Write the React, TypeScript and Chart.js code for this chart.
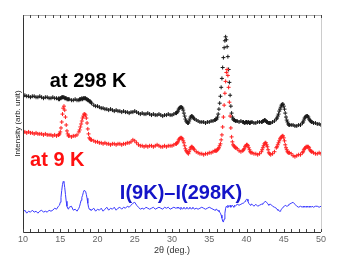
import React, { useEffect, useRef } from "react";
import { Chart, registerables } from "chart.js";

Chart.register(...registerables);

// 2θ grid (deg.) — finer sampling across the diffraction peaks
const twoTheta: number[] = [
  // A
  10, 10.25, 10.5, 10.75, 11, 11.25, 11.5, 11.75, 12, 12.25, 12.5, 12.75,
  13, 13.25, 13.5, 13.75, 14, 14.25, 14.5, 14.75,
  // B
  14.8, 14.9, 15, 15.1, 15.2, 15.3, 15.4, 15.5, 15.6, 15.7, 15.8, 15.9, 16, 16.1, 16.2,
  // C
  16.5, 16.75, 17, 17.25, 17.5,
  // D
  17.6, 17.7, 17.8, 17.9, 18, 18.1, 18.2, 18.3, 18.4, 18.5, 18.6, 18.7, 18.8, 18.9, 19, 19.1, 19.2,
  // E
  19.5, 19.75,
  20, 20.25, 20.5, 20.75, 21, 21.25, 21.5, 21.75, 22, 22.25, 22.5, 22.75,
  23, 23.25, 23.5, 23.75, 24, 24.25, 24.5, 24.75, 25, 25.25, 25.5, 25.75,
  26, 26.25, 26.5, 26.75, 27, 27.25, 27.5, 27.75, 28, 28.25, 28.5, 28.75,
  29, 29.25, 29.5, 29.75, 30, 30.25, 30.5,
  // F
  30.6, 30.7, 30.8, 30.9, 31, 31.1, 31.2, 31.3, 31.4, 31.5, 31.6, 31.7, 31.8,
  31.9, 32, 32.1, 32.2, 32.3, 32.4, 32.5, 32.6, 32.7, 32.8, 32.9, 33,
  // G
  33.25, 33.5, 33.75, 34, 34.25, 34.5, 34.75, 35, 35.25, 35.5, 35.75,
  // H
  35.8, 35.9, 36, 36.1, 36.2, 36.3, 36.4, 36.5, 36.6, 36.7, 36.8, 36.9, 37,
  37.1, 37.2, 37.3, 37.4, 37.5, 37.6, 37.7, 37.8, 37.9, 38, 38.1, 38.2, 38.3,
  38.4, 38.5, 38.6,
  // I
  38.75, 39, 39.25, 39.5,
  // J
  39.6, 39.7, 39.8, 39.9, 40, 40.1, 40.2, 40.3, 40.4, 40.5, 40.6,
  // K
  40.75, 41, 41.25, 41.5, 41.75, 42,
  // L
  42.1, 42.2, 42.3, 42.4, 42.5, 42.6, 42.7, 42.8, 42.9, 43, 43.1,
  // M
  43.25, 43.5, 43.75, 44,
  // N
  44.1, 44.2, 44.3, 44.4, 44.5, 44.6, 44.7, 44.8, 44.9, 45, 45.1, 45.2, 45.3,
  45.4, 45.5, 45.6, 45.7,
  // O
  45.75, 46, 46.25, 46.5, 46.75, 47, 47.25, 47.5,
  // P
  47.6, 47.7, 47.8, 47.9, 48, 48.1, 48.2, 48.3, 48.4, 48.5, 48.6, 48.7, 48.8,
  // Q
  49, 49.25, 49.5, 49.75, 50,
];

// I(298 K), offset trace (arb. unit)
const i298K: number[] = [
  // A
  137, 138, 137, 137, 136, 137, 137, 136, 136, 137, 136, 135,
  136, 136, 135, 135, 136, 135, 135, 134,
  // B
  135, 134, 135, 135, 136, 136, 136, 136, 135, 135, 135, 134, 134, 134, 134,
  // C
  133, 133, 134, 133, 133,
  // D
  134, 134, 134, 135, 134, 135, 135, 135, 135, 134, 134, 133, 133, 132, 132, 131, 130,
  // E
  128, 127,
  127, 126, 125, 125, 124, 124, 123, 124, 123, 122, 123, 122,
  122, 121, 122, 121, 121, 120, 121, 121, 122, 121, 120, 119,
  120, 119, 119, 120, 119, 118, 119, 118, 118, 119, 118, 117,
  118, 118, 119, 118, 118, 119, 120,
  // F
  120, 121, 122, 124, 125, 126, 126, 126, 125, 123, 120, 117, 114,
  112, 111, 110, 110, 112, 114, 116, 117, 117, 116, 115, 114,
  // G
  113, 112, 111, 111, 111, 110, 111, 111, 112, 112, 113,
  // H
  113, 114, 114, 116, 119, 124, 130, 137, 146, 155, 166, 176, 186,
  193, 197, 194, 187, 177, 164, 151, 138, 127, 120, 116, 114, 113,
  113, 112, 112,
  // I
  112, 111, 112, 111,
  // J
  111, 110, 110, 111, 111, 110, 111, 111, 110, 110, 111,
  // K
  111, 110, 110, 111, 111, 111,
  // L
  111, 112, 112, 113, 113, 112, 111, 111, 110, 110, 110,
  // M
  110, 111, 112, 114,
  // N
  115, 117, 119, 122, 124, 126, 128, 129, 129, 127, 124, 120, 116,
  113, 111, 109, 108,
  // O
  108, 108, 108, 107, 107, 108, 108, 110,
  // P
  111, 113, 115, 116, 117, 117, 117, 116, 114, 113, 112, 111, 111,
  // Q
  110, 110, 109, 109, 108,
];

// I(9 K), offset trace (arb. unit)
const i9K: number[] = [
  // A
  101, 101, 100, 101, 100, 100, 99, 100, 99, 99, 99, 98,
  99, 98, 98, 98, 97, 98, 97, 98,
  // B
  98, 99, 101, 105, 111, 119, 125, 127, 123, 116, 108, 102, 99, 97, 97,
  // C
  96, 97, 97, 98, 101,
  // D
  103, 106, 109, 112, 115, 117, 119, 119, 118, 115, 110, 104, 99, 95, 94, 93, 93,
  // E
  92, 91,
  91, 90, 90, 89, 90, 89, 89, 88, 89, 89, 88, 89,
  89, 88, 89, 89, 90, 90, 91, 93, 92, 90, 88, 87,
  87, 86, 87, 86, 87, 87, 86, 87, 88, 87, 86, 86,
  87, 86, 87, 87, 87, 88, 89,
  // F
  89, 90, 91, 93, 94, 95, 95, 95, 94, 92, 90, 87, 84,
  82, 81, 80, 79, 81, 83, 85, 86, 86, 85, 84, 83,
  // G
  81, 80, 79, 79, 78, 79, 79, 80, 80, 81, 82,
  // H
  82, 82, 82, 83, 84, 85, 87, 89, 93, 98, 106, 116, 128,
  140, 152, 161, 164, 158, 146, 131, 117, 105, 96, 91, 88, 87,
  86, 85, 85,
  // I
  84, 82, 81, 82,
  // J
  83, 84, 86, 87, 88, 88, 87, 85, 83, 81, 80,
  // K
  80, 79, 79, 78, 79, 81,
  // L
  83, 85, 87, 89, 90, 90, 88, 86, 83, 80, 79,
  // M
  78, 79, 81, 85,
  // N
  86, 88, 90, 92, 94, 95, 96, 97, 97, 95, 92, 88, 85,
  83, 81, 80, 80,
  // O
  80, 79, 77, 76, 77, 78, 78, 80,
  // P
  81, 83, 84, 85, 86, 86, 86, 86, 85, 83, 82, 81, 81,
  // Q
  80, 79, 79, 80, 79,
];

// I(9K) - I(298K), offset trace (arb. unit)
const iDiff: number[] = [
  // A
  20, 22, 19, 21, 20, 22, 20, 21, 19, 21, 22, 20,
  21, 20, 22, 21, 22, 24, 23, 26,
  // B
  26, 27, 30, 35, 42, 48, 51, 50, 45, 38, 31, 26, 24, 23, 25,
  // C
  26, 22, 23, 21, 24,
  // D
  26, 29, 32, 35, 37, 40, 42, 42, 41, 38, 34, 29, 25, 23, 23, 22, 22,
  // E
  24, 21,
  23, 22, 24, 21, 23, 25, 22, 24, 23, 25, 22, 24,
  25, 23, 25, 24, 26, 25, 27, 29, 30, 27, 25, 23,
  24, 23, 25, 24, 23, 24, 25, 23, 24, 25, 24, 23,
  25, 24, 25, 23, 24, 25, 24,
  // F
  24, 25, 24, 25, 24, 23, 25, 24, 23, 24, 25, 24, 23,
  24, 25, 24, 23, 24, 25, 24, 23, 24, 25, 24, 23,
  // G
  24, 23, 24, 25, 24, 23, 24, 25, 24, 23, 22,
  // H
  22, 23, 23, 22, 21, 22, 20, 19, 17, 14, 11, 10, 13,
  19, 24, 26, 25, 27, 25, 26, 27, 25, 26, 27, 26, 25,
  27, 26, 27,
  // I
  28, 27, 28, 29,
  // J
  29, 30, 31, 32, 33, 33, 31, 29, 28, 27, 28,
  // K
  28, 26, 28, 26, 27, 28,
  // L
  28, 29, 29, 30, 31, 31, 30, 29, 28, 27, 28,
  // M
  28, 26, 25, 24,
  // N
  23, 22, 22, 21, 21, 22, 23, 24, 25, 25, 26, 27, 27,
  26, 26, 27, 28,
  // O
  28, 29, 30, 28, 26, 25, 26, 25,
  // P
  26, 25, 26, 25, 26, 25, 26, 25, 26, 25, 26, 25, 26,
  // Q
  25, 26, 26, 25, 26,
];

const xTickLabels = ["10", "15", "20", "25", "30", "35", "40", "45", "50"];

// Curve labels: text, anchor (2θ, intensity), colour
const curveLabels = [
  { text: "at 298 K", x: 13.6, y: 146, color: "#000000" },
  { text: "at 9 K", x: 10.95, y: 67, color: "#ff1010" },
  { text: "I(9K)\u2013I(298K)", x: 23.0, y: 33, color: "#1414c8" },
];

const toPts = (ys: number[]) =>
  ys.slice(0, Math.min(ys.length, twoTheta.length)).map((y, i) => ({ x: twoTheta[i], y }));

export default function App() {
  const ref = useRef<HTMLCanvasElement | null>(null);

  useEffect(() => {
    if (!ref.current) return;

    const framePlugin = {
      id: "frameAndLabels",
      afterDraw(chart: any) {
        const { ctx, chartArea } = chart;
        const xs = chart.scales.x;
        const ys = chart.scales.y;
        const { left, right, top, bottom } = chartArea;
        ctx.save();
        ctx.lineWidth = 1;
        ctx.strokeStyle = "#aaaaaa";
        ctx.beginPath();
        ctx.moveTo(left, top + 0.5);
        ctx.lineTo(right, top + 0.5);
        ctx.stroke();
        ctx.strokeStyle = "#cccccc";
        ctx.beginPath();
        ctx.moveTo(right + 0.5, top);
        ctx.lineTo(right + 0.5, bottom);
        ctx.stroke();
        ctx.strokeStyle = "#333333";
        ctx.beginPath();
        ctx.moveTo(left + 0.5, top);
        ctx.lineTo(left + 0.5, bottom + 0.5);
        ctx.lineTo(right, bottom + 0.5);
        ctx.stroke();
        ctx.strokeStyle = "#444444";
        ctx.beginPath();
        for (let v = xs.min; v <= xs.max; v += 1) {
          const px = Math.round(xs.getPixelForValue(v)) + 0.5;
          ctx.moveTo(px, bottom);
          ctx.lineTo(px, bottom - 3);
          ctx.moveTo(px, top);
          ctx.lineTo(px, top + 3);
        }
        ctx.stroke();
        ctx.font = "bold 20px 'Liberation Sans', Arial, sans-serif";
        ctx.textBaseline = "alphabetic";
        ctx.textAlign = "left";
        for (const l of curveLabels) {
          ctx.fillStyle = l.color;
          ctx.fillText(l.text, xs.getPixelForValue(l.x), ys.getPixelForValue(l.y));
        }
        ctx.restore();
      },
    };

    const chart = new Chart(ref.current, {
      type: "scatter",
      data: {
        datasets: [
          {
            label: "9 K",
            data: toPts(i9K),
            showLine: false,
            pointStyle: "cross",
            pointRadius: 2,
            borderColor: "#ff2020",
            backgroundColor: "#ff2020",
            borderWidth: 1,
          },
          {
            label: "298 K",
            data: toPts(i298K),
            showLine: false,
            pointStyle: "cross",
            pointRadius: 2,
            borderColor: "#1a1a1a",
            backgroundColor: "#1a1a1a",
            borderWidth: 1,
          },
          {
            label: "diff",
            data: toPts(iDiff),
            showLine: true,
            pointRadius: 0,
            borderColor: "#3a3aff",
            borderWidth: 1,
            tension: 0,
          },
        ],
      },
      options: {
        animation: false,
        responsive: false,
        devicePixelRatio: 1,
        layout: { padding: { left: 8.4, right: 16, top: 15, bottom: 12.4 } },
        plugins: {
          legend: { display: false },
          tooltip: { enabled: false },
        },
        scales: {
          x: {
            type: "linear",
            min: 10,
            max: 50,
            grid: { display: false, drawTicks: false },
            border: { display: false },
            ticks: {
              stepSize: 5,
              padding: 2,
              color: "#666666",
              font: { size: 9, family: "'Liberation Sans', Arial, sans-serif" },
              callback: (v: any) => {
                const s = String(v);
                return xTickLabels.includes(s) ? s : "";
              },
            },
            title: {
              display: true,
              text: "2\u03b8 (deg.)",
              color: "#333333",
              padding: { top: -2, bottom: 0 },
              font: { size: 9, family: "'Liberation Sans', Arial, sans-serif" },
            },
          },
          y: {
            min: 0,
            max: 219,
            grid: { display: false, drawTicks: false },
            border: { display: false },
            ticks: { display: false },
            title: {
              display: true,
              text: "Intensity (arb. unit)",
              color: "#222222",
              padding: { top: 5, bottom: 0 },
              font: { size: 8, family: "'Liberation Sans', Arial, sans-serif" },
            },
          },
        },
      },
      plugins: [framePlugin],
    });

    return () => chart.destroy();
  }, []);

  return (
    <div style={{ position: "fixed", left: 0, top: 0, width: 337, height: 268, background: "#fff" }}>
      <canvas ref={ref} width={337} height={268} style={{ display: "block" }} />
    </div>
  );
}
